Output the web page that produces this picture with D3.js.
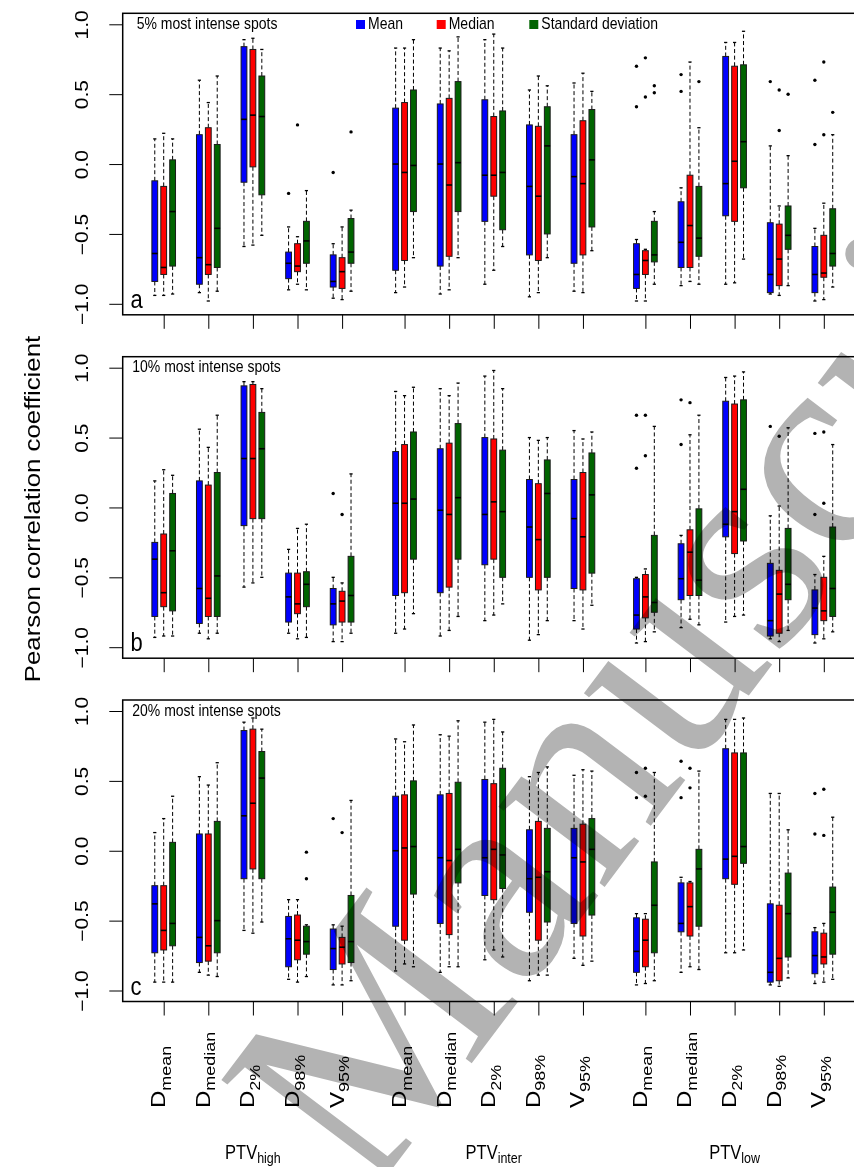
<!DOCTYPE html>
<html>
<head>
<meta charset="utf-8">
<script src="https://cdn.jsdelivr.net/npm/d3@7/dist/d3.min.js"></script>
<style>
  body { margin: 0; background: #fff; }
  svg { display: block; font-family: "Liberation Sans", Arial, sans-serif; }
</style>
</head>
<body>
<div id="chart"></div>
<script>
// ---- data ----
const panelTitles = ['5% most intense spots', '10% most intense spots', '20% most intense spots'];
const panelLetters = ['a', 'b', 'c'];
const ptvNames = ['high', 'inter', 'low'];
const metrics = [['D', 'mean'], ['D', 'median'], ['D', '2%'], ['D', '98%'], ['V', '95%']];
const seriesNames = ['Mean', 'Median', 'Standard deviation'];
const seriesColors = ['#0000ff', '#ff0000', '#006400'];
const yTicks = [-1, -0.5, 0, 0.5, 1];

// [lower whisker, Q1, median, Q3, upper whisker] per metric, 15 per series
const a_mean = [[-0.94,-0.84,-0.64,-0.12,0.18],[-0.92,-0.86,-0.67,0.21,0.60],[-0.59,-0.13,0.32,0.84,0.89],[-0.90,-0.82,-0.71,-0.63,-0.45],[-0.96,-0.88,-0.84,-0.65,-0.57],
  [-0.92,-0.76,0.00,0.40,0.83],[-0.93,-0.73,0.00,0.43,0.83],[-0.86,-0.41,-0.08,0.46,0.89],[-0.95,-0.65,-0.16,0.28,0.53],[-0.91,-0.71,-0.09,0.21,0.58],
  [-0.98,-0.89,-0.79,-0.57,-0.54],[-0.87,-0.74,-0.56,-0.27,-0.17],[-0.86,-0.37,-0.14,0.77,0.87],[-0.93,-0.92,-0.79,-0.42,0.13],[-0.98,-0.92,-0.79,-0.59,-0.46]];
const a_median = [[-0.94,-0.79,-0.74,-0.16,0.22],[-0.98,-0.79,-0.72,0.26,0.44],[-0.58,-0.02,0.35,0.82,0.90],[-0.86,-0.77,-0.73,-0.57,-0.52],[-0.97,-0.89,-0.77,-0.67,-0.45],
  [-0.88,-0.69,-0.06,0.44,0.83],[-0.90,-0.66,-0.15,0.47,0.81],[-0.76,-0.23,-0.08,0.34,0.93],[-0.92,-0.69,-0.23,0.27,0.63],[-0.92,-0.65,-0.14,0.31,0.65],
  [-0.98,-0.79,-0.69,-0.62,-0.61],[-0.84,-0.74,-0.44,-0.08,0.73],[-0.85,-0.41,0.02,0.70,0.87],[-0.94,-0.87,-0.68,-0.43,-0.30],[-0.97,-0.81,-0.78,-0.51,-0.28]];
const a_sd = [[-0.93,-0.73,-0.34,0.03,0.18],[-0.91,-0.74,-0.46,0.14,0.63],[-0.51,-0.22,0.34,0.63,0.82],[-0.90,-0.71,-0.55,-0.41,-0.19],[-0.91,-0.71,-0.63,-0.39,-0.33],
  [-0.67,-0.34,-0.01,0.53,0.89],[-0.67,-0.34,0.01,0.59,0.91],[-0.59,-0.47,-0.06,0.38,0.83],[-0.67,-0.50,0.13,0.41,0.56],[-0.62,-0.45,0.03,0.39,0.52],
  [-0.86,-0.70,-0.65,-0.41,-0.34],[-0.86,-0.66,-0.53,-0.16,0.26],[-0.68,-0.17,0.16,0.71,0.95],[-0.87,-0.61,-0.51,-0.30,0.06],[-0.88,-0.73,-0.64,-0.32,0.21]];

const b_mean = [[-0.93,-0.78,-0.37,-0.25,0.19],[-0.90,-0.83,-0.58,0.19,0.56],[-0.57,-0.13,0.35,0.87,0.90],[-0.90,-0.82,-0.64,-0.47,-0.30],[-0.96,-0.84,-0.69,-0.58,-0.50],
  [-0.90,-0.63,0.03,0.40,0.83],[-0.92,-0.61,-0.02,0.42,0.85],[-0.81,-0.41,-0.05,0.50,0.94],[-0.95,-0.50,-0.14,0.20,0.50],[-0.81,-0.58,-0.08,0.20,0.55],
  [-0.97,-0.87,-0.77,-0.51,-0.50],[-0.86,-0.66,-0.51,-0.26,-0.20],[-0.82,-0.21,-0.12,0.76,0.93],[-0.94,-0.92,-0.81,-0.40,-0.06],[-0.97,-0.91,-0.72,-0.59,-0.48]];
const b_median = [[-0.92,-0.71,-0.61,-0.19,0.27],[-0.94,-0.78,-0.65,0.16,0.43],[-0.54,-0.08,0.35,0.88,0.90],[-0.94,-0.76,-0.69,-0.47,-0.15],[-0.96,-0.82,-0.67,-0.60,-0.54],
  [-0.87,-0.61,0.03,0.45,0.80],[-0.88,-0.57,-0.05,0.46,0.80],[-0.77,-0.37,0.04,0.49,0.98],[-0.91,-0.59,-0.23,0.17,0.48],[-0.87,-0.59,-0.21,0.25,0.49],
  [-0.96,-0.79,-0.64,-0.48,-0.44],[-0.80,-0.63,-0.32,-0.16,0.52],[-0.78,-0.33,-0.03,0.74,0.94],[-0.96,-0.90,-0.62,-0.45,0.01],[-0.94,-0.81,-0.74,-0.50,-0.35]];
const b_sd = [[-0.92,-0.74,-0.31,0.10,0.23],[-0.90,-0.78,-0.49,0.25,0.66],[-0.50,-0.08,0.42,0.68,0.85],[-0.93,-0.71,-0.55,-0.46,-0.12],[-0.90,-0.82,-0.63,-0.35,0.24],
  [-0.76,-0.37,0.06,0.54,0.86],[-0.78,-0.37,0.07,0.60,0.89],[-0.69,-0.50,-0.03,0.41,0.85],[-0.81,-0.50,0.10,0.34,0.50],[-0.70,-0.47,0.09,0.39,0.54],
  [-0.89,-0.75,-0.68,-0.20,0.58],[-0.84,-0.63,-0.52,-0.01,0.66],[-0.77,-0.24,0.13,0.77,0.97],[-0.88,-0.66,-0.55,-0.15,0.57],[-0.89,-0.78,-0.58,-0.14,0.45]];

const c_mean = [[-0.94,-0.73,-0.38,-0.25,0.13],[-0.87,-0.80,-0.62,0.12,0.53],[-0.57,-0.20,0.25,0.86,0.92],[-0.92,-0.83,-0.63,-0.47,-0.35],[-0.96,-0.85,-0.70,-0.56,-0.53],
  [-0.86,-0.54,0.00,0.39,0.80],[-0.87,-0.52,-0.05,0.40,0.83],[-0.78,-0.32,-0.05,0.51,0.92],[-0.93,-0.44,-0.20,0.15,0.53],[-0.77,-0.52,-0.05,0.16,0.54],
  [-0.96,-0.87,-0.72,-0.48,-0.45],[-0.87,-0.58,-0.52,-0.23,-0.19],[-0.73,-0.20,-0.06,0.73,0.94],[-0.96,-0.94,-0.87,-0.38,0.41],[-0.95,-0.88,-0.75,-0.58,-0.55]];
const c_median = [[-0.94,-0.71,-0.57,-0.25,0.23],[-0.89,-0.79,-0.68,0.12,0.47],[-0.59,-0.13,0.34,0.87,0.95],[-0.94,-0.78,-0.64,-0.46,-0.35],[-0.96,-0.81,-0.69,-0.62,-0.54],
  [-0.81,-0.64,0.02,0.40,0.78],[-0.83,-0.60,-0.07,0.41,0.82],[-0.71,-0.35,0.01,0.48,0.94],[-0.89,-0.64,-0.19,0.21,0.56],[-0.82,-0.61,-0.08,0.19,0.58],
  [-0.95,-0.83,-0.64,-0.49,-0.45],[-0.83,-0.61,-0.40,-0.23,-0.22],[-0.73,-0.24,-0.04,0.70,0.94],[-0.97,-0.93,-0.77,-0.39,0.41],[-0.94,-0.81,-0.76,-0.59,-0.52]];
const c_sd = [[-0.94,-0.68,-0.52,0.06,0.39],[-0.90,-0.73,-0.50,0.21,0.63],[-0.51,-0.20,0.52,0.71,0.87],[-0.90,-0.74,-0.65,-0.54,-0.53],[-0.93,-0.80,-0.65,-0.32,0.36],
  [-0.83,-0.31,0.03,0.50,0.90],[-0.83,-0.23,0.01,0.49,0.93],[-0.76,-0.27,-0.03,0.59,0.85],[-0.89,-0.51,-0.15,0.16,0.60],[-0.79,-0.46,0.01,0.23,0.57],
  [-0.93,-0.73,-0.39,-0.08,0.56],[-0.85,-0.54,-0.13,0.01,0.57],[-0.71,-0.09,0.03,0.70,0.95],[-0.91,-0.76,-0.45,-0.16,0.15],[-0.92,-0.74,-0.44,-0.26,0.24]];

// outliers per metric
const a_mean_out = [[],[],[],[-0.21],[-0.06],[],[],[],[],[],[0.70,0.41],[0.64,0.52],[],[0.59],[0.60,0.14]];
const a_median_out = [[],[],[],[0.28],[],[],[],[],[],[],[0.76,0.48],[],[],[0.53,0.24],[0.73,0.21]];
const a_sd_out = [[],[],[],[],[0.23],[],[],[],[],[],[0.56,0.51],[0.59],[],[0.50],[0.37]];
const b_mean_out = [[],[],[],[],[0.10],[],[],[],[],[],[0.66,0.28],[0.77,0.45],[],[0.58],[0.53,-0.05]];
const b_median_out = [[],[],[],[],[-0.05],[],[],[],[],[],[0.66,0.37],[0.75],[],[0.51],[0.54,0.03]];
const b_sd_out = [[],[],[],[],[],[],[],[],[],[],[],[],[],[],[]];
const c_mean_out = [[],[],[],[],[0.23],[],[],[],[],[],[0.56,0.38],[0.64,0.38],[],[],[0.41,0.12]];
const c_median_out = [[],[],[],[],[0.13],[],[],[],[],[],[0.59,0.39],[0.59,0.45],[],[],[0.44,0.11]];
const c_sd_out = [[],[],[],[-0.01,-0.20],[],[],[],[],[],[],[],[],[],[],[]];

// ---- layout ----
const WIDTH = 854;
const HEIGHT = 1167;
const TEXT_STRETCH = 1.2;   // the original figure was stretched vertically
const FRAME_LEFT = 122.7;
const PANEL_SPAN = 279.5;   // pixels between -1 and 1
const panelTops = [24.3, 367.7, 711];  // y of 1.0 in each panel
const titleX = [136.7, 132.3, 132.3];

const panels = panelTitles.map((title, k) => ({
  title,
  letter: panelLetters[k],
  top: panelTops[k],
  titleX: titleX[k],
  stats: [[a_mean, a_median, a_sd], [b_mean, b_median, b_sd], [c_mean, c_median, c_sd]][k],
  outliers: [[a_mean_out, a_median_out, a_sd_out], [b_mean_out, b_median_out, b_sd_out], [c_mean_out, c_median_out, c_sd_out]][k],
}));

// group slots: 5 metrics per PTV, with a wider gap between PTVs
const groupPos = i => Math.floor(i / 5) * 5.4 + (i % 5);
const x = d3.scaleLinear().domain([0, 14.8]).range([163.7, 823.8]);
const BOX_OFFSET = 0.2;
const BOX_W = 5.8;
const CAP_W = 3.2;

const svg = d3.select('#chart').append('svg')
  .attr('width', WIDTH)
  .attr('height', HEIGHT);
svg.append('rect').attr('width', WIDTH).attr('height', HEIGHT).attr('fill', '#fff');

/*
* stretchedText - text placed at (tx, ty), stretched vertically like the source image
*/
function stretchedText(parent, tx, ty, rotate) {
  return parent.append('text')
    .attr('transform', `translate(${tx},${ty}) scale(1,${TEXT_STRETCH})${rotate ? ' rotate(-90)' : ''}`);
}

/*
* drawPanel - frame, axes and boxplots of one panel
* @returns {number} y of the frame bottom
*/
function drawPanel(p) {
  const y = d3.scaleLinear().domain([-1, 1]).range([p.top + PANEL_SPAN, p.top]);
  const frameTop = y(1) - 11;
  const frameBottom = y(-1) + 11;
  const g = svg.append('g');

  p.stats.forEach((series, s) => {
    const dx = (s - 1) * BOX_OFFSET;
    const boxes = g.append('g').selectAll('g').data(series).join('g')
      .attr('transform', (d, i) => `translate(${x(groupPos(i) + dx)},0)`);

    // whiskers
    boxes.append('line').attr('y1', d => y(d[3])).attr('y2', d => y(d[4]))
      .attr('stroke', '#000').attr('stroke-width', 1).attr('stroke-dasharray', '4,2.6');
    boxes.append('line').attr('y1', d => y(d[1])).attr('y2', d => y(d[0]))
      .attr('stroke', '#000').attr('stroke-width', 1).attr('stroke-dasharray', '4,2.6');
    boxes.selectAll('.cap').data(d => [d[0], d[4]]).join('line')
      .attr('x1', -CAP_W / 2).attr('x2', CAP_W / 2)
      .attr('y1', v => y(v)).attr('y2', v => y(v))
      .attr('stroke', '#000').attr('stroke-width', 1.3);

    boxes.append('rect')
      .attr('x', -BOX_W / 2).attr('width', BOX_W)
      .attr('y', d => y(d[3])).attr('height', d => y(d[1]) - y(d[3]))
      .attr('fill', seriesColors[s]).attr('stroke', '#1a1a1a').attr('stroke-width', 1);
    boxes.append('line')
      .attr('x1', -BOX_W / 2).attr('x2', BOX_W / 2)
      .attr('y1', d => y(d[2])).attr('y2', d => y(d[2]))
      .attr('stroke', '#000').attr('stroke-width', 1.6);

    // outliers
    boxes.data(p.outliers[s]).selectAll('circle').data(d => d).join('circle')
      .attr('cy', v => y(v)).attr('r', 1.7).attr('fill', '#000');
  });

  // frame (right edge runs off the picture)
  g.append('rect')
    .attr('x', FRAME_LEFT).attr('y', frameTop)
    .attr('width', 760).attr('height', frameBottom - frameTop)
    .attr('fill', 'none').attr('stroke', '#000').attr('stroke-width', 1.5);

  // y axis
  const yAxis = g.append('g')
    .attr('transform', `translate(${FRAME_LEFT},0)`)
    .call(d3.axisLeft(y).tickValues(yTicks).tickSize(13.4).tickFormat(d3.format('.1f')));
  yAxis.select('.domain').remove();
  yAxis.selectAll('.tick line').attr('stroke-width', 1);
  yAxis.selectAll('.tick text')
    .attr('x', null).attr('dy', null)
    .attr('text-anchor', 'middle')
    .attr('font-size', 17.5).attr('font-family', '"Liberation Sans", Arial, sans-serif')
    .attr('fill', '#000')
    .attr('transform', `translate(${88 - FRAME_LEFT},0) scale(1,${TEXT_STRETCH}) rotate(-90)`);

  // x ticks, labels only under the last panel
  const xAxis = g.append('g')
    .attr('transform', `translate(0,${frameBottom})`)
    .call(d3.axisBottom(x).tickValues(d3.range(15).map(groupPos)).tickSize(14).tickFormat(''));
  xAxis.select('.domain').remove();
  xAxis.selectAll('.tick line').attr('stroke-width', 1);

  stretchedText(g, p.titleX, frameTop + 15.5)
    .attr('font-size', 14).text(p.title);
  stretchedText(g, 130.5, frameBottom - 7)
    .attr('font-size', 22).text(p.letter);

  return frameBottom;
}

const bottoms = panels.map(drawPanel);

// legend (top panel)
const legendX = [356, 436.7, 529.3];
const legend = svg.append('g').selectAll('g').data(seriesNames).join('g')
  .attr('transform', (d, i) => `translate(${legendX[i]},20)`);
legend.append('rect').attr('width', 9).attr('height', 9).attr('fill', (d, i) => seriesColors[i]);
legend.each(function (d) {
  stretchedText(d3.select(this), 12, 9).attr('font-size', 14).text(d);
});

// metric labels, rotated
const labelG = svg.append('g');
d3.range(15).forEach(i => {
  const m = metrics[i % 5];
  const t = stretchedText(labelG, x(groupPos(i)) + 1.5, bottoms[2] + 106.5, true)
    .attr('text-anchor', 'start');
  t.append('tspan').attr('font-size', 20).text(m[0]);
  t.append('tspan').attr('font-size', 15).attr('dy', 5.5).text(m[1]);
});

// PTV names under each family
ptvNames.forEach((name, f) => {
  const t = stretchedText(svg, x(f * 5.4 + 2), 1159).attr('text-anchor', 'middle');
  t.append('tspan').attr('font-size', 16.5).text('PTV');
  t.append('tspan').attr('font-size', 12.5).attr('dy', 3).text(name);
});

// y title
stretchedText(svg, 40, 509, true)
  .attr('text-anchor', 'middle').attr('font-size', 21.5)
  .text('Pearson correlation coefficient');

// journal watermark over the figure
svg.append('text')
  .attr('transform', 'translate(368,1201) rotate(-53)')
  .attr('font-family', '"Liberation Serif", "Times New Roman", serif')
  .attr('font-size', 290)
  .attr('fill', '#b3b3b3')
  .style('mix-blend-mode', 'multiply')
  .text('Manuscript');
</script>
</body>
</html>
